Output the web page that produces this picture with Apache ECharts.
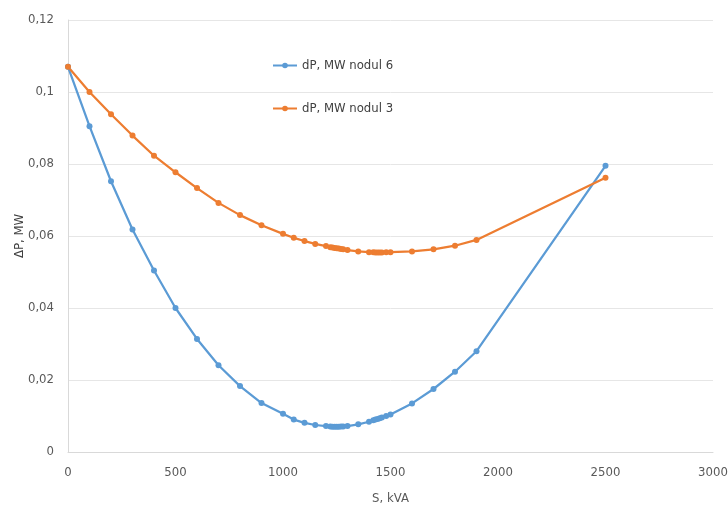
<!DOCTYPE html>
<html><head><meta charset="utf-8">
<script src="https://cdn.jsdelivr.net/npm/echarts@6/dist/echarts.min.js"></script>
<style>html,body{margin:0;padding:0;background:#fff}#c{width:728px;height:508px}</style>
</head><body><div id="c"></div>
<script>
const sValues = [0,100,200,300,400,500,600,700,800,900,1000,1050,1100,1150,1200,1220,1230,1240,1250,1260,1270,1280,1300,1350,1400,1420,1430,1440,1450,1460,1480,1500,1600,1700,1800,1900,2500];
const nodul6 = [0.107,0.0905,0.0752,0.0618,0.0504,0.040,0.0314,0.0241,0.0183,0.0136,0.0106,0.0090,0.0081,0.0075,0.0072,0.0071,0.0070,0.0070,0.0070,0.0070,0.0071,0.0071,0.0072,0.0077,0.0084,0.0088,0.0090,0.0092,0.0094,0.0096,0.0100,0.0104,0.0135,0.0175,0.0223,0.0280,0.0795];
const nodul3 = [0.107,0.100,0.0938,0.0879,0.0823,0.0777,0.0733,0.0692,0.0658,0.0630,0.0606,0.0595,0.0586,0.0578,0.0572,0.0569,0.0568,0.0567,0.0566,0.0565,0.0564,0.0563,0.0561,0.0557,0.0555,0.0555,0.0554,0.0554,0.0554,0.0554,0.0555,0.0555,0.0557,0.0563,0.0573,0.0589,0.0762];
const seriesNames = ['dP, MW nodul 6','dP, MW nodul 3'];
const xTitle = 'S, kVA';
const yTitle = '\u0394P, MW';

const font = '"Liberation Sans Narrow","DejaVu Sans Condensed",sans-serif';
const chart = echarts.init(document.getElementById('c'));
const mk = (arr) => sValues.map((s,i)=>[s,arr[i]]);
chart.setOption({
  animation:false,
  grid:{left:68,right:15,top:20,bottom:56,containLabel:false,outerBoundsMode:'none'},
  legend:{orient:'vertical',left:267,top:54,itemGap:30,itemWidth:24,itemHeight:7,
    textStyle:{fontFamily:font,fontSize:13,color:'#404040'},
    data:seriesNames},
  xAxis:{type:'value',min:0,max:3000,interval:500,
    name:xTitle,nameLocation:'middle',nameGap:40,nameMoveOverlap:false,
    nameTextStyle:{fontFamily:font,fontSize:13,color:'#595959'},
    axisLine:{show:true,lineStyle:{color:'#d9d9d9'}},axisTick:{show:false},
    axisLabel:{fontFamily:font,fontSize:13,color:'#595959',margin:14,formatter:v=>String(v)},
    splitLine:{show:false}},
  yAxis:{type:'value',min:0,max:0.12,interval:0.02,
    name:yTitle,nameLocation:'middle',nameGap:42,nameRotate:90,nameMoveOverlap:false,
    nameTextStyle:{fontFamily:font,fontSize:13,color:'#404040'},
    axisLine:{show:true,lineStyle:{color:'#d9d9d9'}},axisTick:{show:false},
    axisLabel:{fontFamily:font,fontSize:13,color:'#595959',margin:14,
      formatter:v=>String(Number(v.toFixed(2))).replace('.',',')},
    splitLine:{show:true,lineStyle:{color:'#e6e6e6'}}},
  series:[
    {name:seriesNames[0],type:'line',data:mk(nodul6),symbol:'circle',symbolSize:6,
     itemStyle:{color:'#5B9BD5'},lineStyle:{color:'#5B9BD5',width:2.25}},
    {name:seriesNames[1],type:'line',data:mk(nodul3),symbol:'circle',symbolSize:6,
     itemStyle:{color:'#ED7D31'},lineStyle:{color:'#ED7D31',width:2.25}}
  ]
});
</script></body></html>
